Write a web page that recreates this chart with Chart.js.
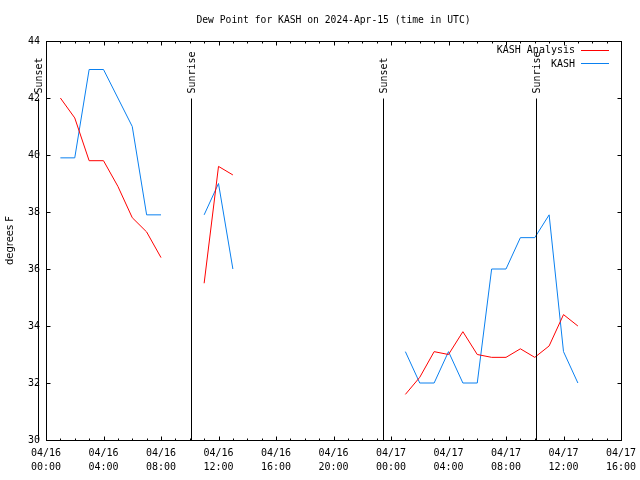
<!DOCTYPE html>
<html>
<head>
<meta charset="utf-8">
<title>Dew Point for KASH</title>
<script src="https://cdn.jsdelivr.net/npm/chart.js@4/dist/chart.umd.min.js"></script>
<style>
  html, body { margin: 0; padding: 0; background: #fff; }
</style>
</head>
<body>
<canvas id="dew" width="640" height="480"></canvas>
<script>
// hours after 04/16 00:00 UTC
const hours = [1, 2, 3, 4, 5, 6, 7, 8, 9, 10, 11, 12, 13, 14, 15, 16, 17, 18, 19,
  20, 21, 22, 23, 24, 25, 26, 27, 28, 29, 30, 31, 32, 33, 34, 35, 36, 37];

// KASH Analysis (red), deg F
const analysis = [42.0, 41.3, 39.8, 39.8, 38.9, 37.8, 37.3, 36.4, null, null,
  35.5, 39.6, 39.3, null, null, null, null, null, null, null, null, null, null, null,
  31.6, 32.2, 33.1, 33.0, 33.8, 33.0, 32.9, 32.9, 33.2, 32.9, 33.3, 34.4, 34.0];

// KASH observations (blue), deg F
const observed = [39.9, 39.9, 43.0, 43.0, 42.0, 41.0, 37.9, 37.9, null, null,
  37.9, 39.0, 36.0, null, null, null, null, null, null, null, null, null, null, null,
  33.1, 32.0, 32.0, 33.1, 32.0, 32.0, 36.0, 36.0, 37.1, 37.1, 37.9, 33.1, 32.0];

const tickDates = ['04/16', '04/16', '04/16', '04/16', '04/16', '04/16',
  '04/17', '04/17', '04/17', '04/17', '04/17'];
const tickTimes = ['00:00', '04:00', '08:00', '12:00', '16:00', '20:00',
  '00:00', '04:00', '08:00', '12:00', '16:00'];

const sunHours = [-0.55, 10.08, 23.45, 34.08];
const sunLabels = ['Sunset', 'Sunrise', 'Sunset', 'Sunrise'];

const MONO = '"DejaVu Sans Mono", monospace';
const RED = '#ff0000';
const BLUE = '#0a80f0';

function points(values) {
  return hours.map((h, i) => ({ x: h, y: values[i] }));
}

// gnuplot-style frame: box, inward tics, sun lines, legend, title
const gnuplotDecor = {
  id: 'gnuplotDecor',
  afterDraw(chart) {
    const { ctx, chartArea: a, scales: { x, y } } = chart;
    const px = (v) => Math.round(x.getPixelForValue(v)) + 0.5;
    const py = (v) => Math.round(y.getPixelForValue(v)) + 0.5;
    const L = Math.round(a.left) + 0.5, R = Math.round(a.right) + 0.5;
    const T = Math.round(a.top) + 0.5, B = Math.round(a.bottom) + 0.5;

    ctx.save();
    ctx.strokeStyle = '#000';
    ctx.lineWidth = 1;
    ctx.strokeRect(L, T, R - L, B - T);

    ctx.beginPath();
    for (let h = 0; h <= 40; h++) {
      const len = h % 4 === 0 ? 4 : 2;
      const xx = px(h);
      ctx.moveTo(xx, B); ctx.lineTo(xx, B - len);
      ctx.moveTo(xx, T); ctx.lineTo(xx, T + len);
    }
    for (let v = 30; v <= 44; v += 2) {
      const yy = py(v);
      ctx.moveTo(L, yy); ctx.lineTo(L + 4, yy);
      ctx.moveTo(R, yy); ctx.lineTo(R - 4, yy);
    }
    ctx.stroke();

    // sunrise / sunset markers
    ctx.font = '10px ' + MONO;
    ctx.fillStyle = '#000';
    sunHours.forEach((h, i) => {
      const xx = px(h);
      ctx.beginPath();
      ctx.moveTo(xx, py(42));
      ctx.lineTo(xx, py(30));
      ctx.stroke();
      ctx.save();
      ctx.translate(xx + 1, py(42) - 5);
      ctx.rotate(-Math.PI / 2);
      ctx.textAlign = 'left';
      ctx.textBaseline = 'middle';
      ctx.fillText(sunLabels[i], 0, 0);
      ctx.restore();
    });

    // legend, text left of sample line
    ctx.textAlign = 'right';
    ctx.textBaseline = 'middle';
    chart.data.datasets.forEach((ds, i) => {
      const yy = a.top + 8.5 + i * 13.5;
      ctx.fillStyle = '#000';
      ctx.fillText(ds.label, a.right - 46, yy + 1);
      ctx.strokeStyle = ds.borderColor;
      ctx.beginPath();
      ctx.moveTo(a.right - 40, Math.round(yy) + 0.5);
      ctx.lineTo(a.right - 12, Math.round(yy) + 0.5);
      ctx.stroke();
    });

    // title
    ctx.fillStyle = '#000';
    ctx.textAlign = 'center';
    ctx.font = '9.7px ' + MONO;
    ctx.fillText('Dew Point for KASH on 2024-Apr-15 (time in UTC)', (a.left + a.right) / 2, 20);
    ctx.restore();
  },
};

new Chart(document.getElementById('dew'), {
  type: 'line',
  data: {
    datasets: [
      { label: 'KASH Analysis', data: points(analysis), borderColor: RED },
      { label: 'KASH', data: points(observed), borderColor: BLUE },
    ],
  },
  options: {
    responsive: false,
    animation: false,
    devicePixelRatio: 1,
    spanGaps: false,
    elements: {
      line: { borderWidth: 1, tension: 0, fill: false },
      point: { radius: 0, hoverRadius: 0 },
    },
    layout: { padding: { top: 41, right: 19, left: 0, bottom: 0 } },
    plugins: {
      legend: { display: false },
      tooltip: { enabled: false },
    },
    scales: {
      x: {
        type: 'linear',
        min: 0,
        max: 40,
        afterFit: (s) => {
          s.height = 40;
          s.paddingLeft = 0;
          s.paddingRight = 0;
        },
        grid: { display: false, drawTicks: false },
        border: { display: false },
        ticks: {
          stepSize: 4,
          autoSkip: false,
          maxRotation: 0,
          padding: 6,
          color: '#000',
          font: { family: MONO, size: 10, lineHeight: 1.4 },
          callback: (v, i) => [tickDates[i], tickTimes[i]],
        },
      },
      y: {
        min: 30,
        max: 44,
        afterFit: (s) => { s.width = 46; },
        grid: { display: false, drawTicks: false },
        border: { display: false },
        ticks: {
          stepSize: 2,
          padding: 6,
          color: '#000',
          font: { family: MONO, size: 10 },
        },
        title: {
          display: true,
          text: 'degrees F',
          color: '#000',
          padding: { top: 4, bottom: 0 },
          font: { family: '"DejaVu Sans", sans-serif', size: 10 },
        },
      },
    },
  },
  plugins: [gnuplotDecor],
});
</script>
</body>
</html>
